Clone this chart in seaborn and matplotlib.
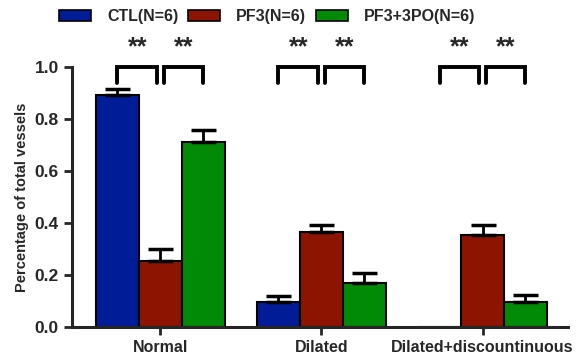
import numpy as np
import pandas as pd
import matplotlib
matplotlib.use("Agg")
import matplotlib.pyplot as plt
import seaborn as sns
from matplotlib.patches import Patch

categories = ["Normal", "Dilated", "Dilated+discountinuous"]
groups = ["CTL(N=6)", "PF3(N=6)", "PF3+3PO(N=6)"]
ctl_mean = [0.892, 0.098, 0.0]
ctl_err = [0.024, 0.022, 0.0]
pf3_mean = [0.256, 0.365, 0.356]
pf3_err = [0.044, 0.027, 0.036]
po_mean = [0.713, 0.170, 0.097]
po_err = [0.046, 0.038, 0.026]
colors = ["#001C96", "#8C1400", "#008A05"]

# significance brackets: (category index, bar a, bar b)
sig_pairs = [(0, 0, 1), (0, 1, 2), (1, 0, 1), (1, 1, 2), (2, 0, 1), (2, 1, 2)]

df = pd.DataFrame({
    "category": categories * 3,
    "group": [g for g in groups for _ in categories],
    "value": ctl_mean + pf3_mean + po_mean,
    "err": ctl_err + pf3_err + po_err,
})

sns.set_style("ticks")
plt.rcParams["font.family"] = ["Liberation Sans", "DejaVu Sans"]
plt.rcParams["font.weight"] = "bold"

fig = plt.figure(figsize=(5.81, 3.61), dpi=100)
ax = fig.add_axes([0.124, 0.094, 0.854, 0.72])

sns.barplot(data=df, x="category", y="value", hue="group", palette=colors,
            saturation=1, errorbar=None, width=0.8, edgecolor="black",
            linewidth=1.5, legend=False, ax=ax)

w = 0.8 / 3
centers = {}
for gi, g in enumerate(groups):
    sub = df[df["group"] == g]
    for ci, (v, e) in enumerate(zip(sub["value"], sub["err"])):
        x = ci - 0.8 / 2 + w * (gi + 0.5)
        centers[(ci, gi)] = x
        if v > 0:
            ax.errorbar(x, v, yerr=[[0], [e]], fmt="none", ecolor="black",
                        elinewidth=2, capsize=9, capthick=2.5, zorder=3)

for ci, a, b in sig_pairs:
    x1 = centers[(ci, a)] + (0.02 if a == 1 else 0.0)
    x2 = centers[(ci, b)] - (0.02 if b == 1 else 0.0)
    ax.plot([x1, x1, x2, x2], [0.94, 1.0, 1.0, 0.94], color="black", lw=2.8,
            clip_on=False, solid_joinstyle="miter")
    ax.text((x1 + x2) / 2, 1.03, "**", ha="center", va="bottom",
            fontsize=18, fontweight="bold")

ax.set_xlim(-0.548, 2.532)
ax.set_ylim(0, 1.0)
ax.set_yticks([0.0, 0.2, 0.4, 0.6, 0.8, 1.0])
ax.set_yticklabels(["0.0", "0.2", "0.4", "0.6", "0.8", "1.0"])
ax.set_xlabel("")
ax.set_ylabel("Percentage of total vessels", fontsize=10.5, fontweight="bold",
              labelpad=4)
ax.tick_params(axis="both", width=2, length=6, labelsize=12.5)
ax.tick_params(axis="x", labelsize=11.5)
for lab in ax.get_xticklabels() + ax.get_yticklabels():
    lab.set_fontweight("bold")
sns.despine(ax=ax)
ax.spines["left"].set_linewidth(2.2)
ax.spines["bottom"].set_linewidth(2.2)

handles = [Patch(facecolor=c, edgecolor="black", linewidth=1.2) for c in colors]
fig.legend(handles, groups, loc="center", bbox_to_anchor=(0.46, 0.953), ncol=3,
           frameon=False, handlelength=2.0, handleheight=0.7, handletextpad=1.0,
           columnspacing=0.6, prop={"weight": "bold", "size": 11.5})

fig.savefig("out.png", dpi=100)
